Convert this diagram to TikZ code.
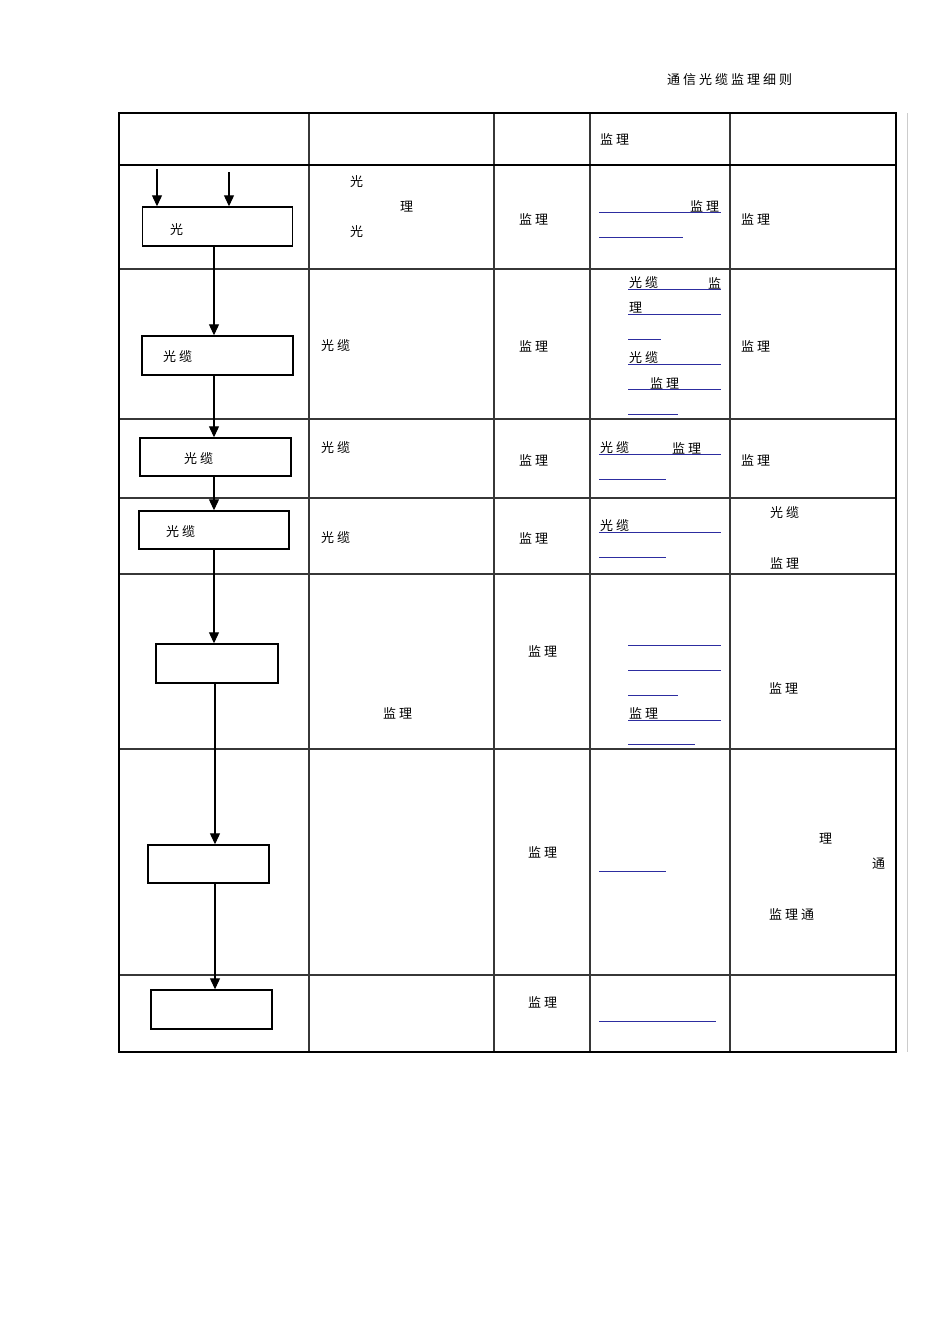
\documentclass[tikz,border=0pt]{standalone}
\usepackage{fontspec}
\newfontfamily\cjk{Noto Sans CJK SC}
\usetikzlibrary{arrows.meta}
\newcommand\gp{\hspace{3pt}}
\definecolor{linkblue}{RGB}{45,45,160}
\definecolor{gridgray}{RGB}{55,55,55}
\tikzset{
  txt/.style={anchor=west,inner sep=0pt,font=\cjk\fontsize{13}{15}\selectfont},
  txtc/.style={inner sep=0pt,font=\cjk\fontsize{13}{15}\selectfont},
  flowbox/.style={draw=black,line width=1.4pt,inner sep=0pt},
  arr/.style={line width=1.1pt,-{Triangle[width=10pt,length=11pt]}},
  uline/.style={draw=linkblue,line width=1pt},
  grid/.style={draw=gridgray,line width=1.1pt},
  outer/.style={draw=black,line width=2.8pt}
}
\begin{document}
\begin{tikzpicture}[x=1pt,y=-1pt]
\useasboundingbox[fill=white] (0,0) rectangle (950,1344);
% page header
\node[txt] (title) at (667,80) {通\gp 信\gp 光\gp 缆\gp 监\gp 理\gp 细\gp 则};
% faint line right of table
\draw[gray!40,line width=1pt] (907,113) -- (907,1052);
% inner grid
\foreach \yy in {269,419,498,574,749,975} {\draw[grid] (119,\yy) -- (896,\yy);}
\foreach \xx in {309,494,590,730} {\draw[grid] (\xx,113) -- (\xx,1052);}
\draw[outer] (119,165) -- (896,165);
\draw[outer] (119,113) rectangle (896,1052);
% header cell
\node[txt] (h4) at (600,139) {监\gp 理};
% flowchart boxes
\node[flowbox,minimum width=150pt,minimum height=39pt] (b1) at (217.5,226.5) {};
\node[flowbox,minimum width=151pt,minimum height=39pt] (b2) at (217.5,355.5) {};
\node[flowbox,minimum width=151pt,minimum height=38pt] (b3) at (215.5,457) {};
\node[flowbox,minimum width=150pt,minimum height=38pt] (b4) at (214,530) {};
\node[flowbox,minimum width=122pt,minimum height=39pt] (b5) at (217,663.5) {};
\node[flowbox,minimum width=121pt,minimum height=38pt] (b6) at (208.5,864) {};
\node[flowbox,minimum width=121pt,minimum height=39pt] (b7) at (211.5,1009.5) {};
\node[txt] (t1) at (170,230) {光};
\node[txt] (t2) at (163,357) {光\gp 缆};
\node[txt] (t3) at (184,459) {光\gp 缆};
\node[txt] (t4) at (166,532) {光\gp 缆};
% arrows
\coordinate (s1) at (157,169);
\coordinate (s2) at (229,172);
\coordinate (ax) at (214,0);
\coordinate (bx) at (215,0);
\draw[arr] (s1) -- (s1 |- b1.north);
\draw[arr] (s2) -- (s2 |- b1.north);
\draw[arr] (b1.south -| ax) -- (b2.north -| ax);
\draw[arr] (b2.south -| ax) -- (b3.north -| ax);
\draw[arr] (b3.south -| ax) -- (b4.north -| ax);
\draw[arr] (b4.south -| ax) -- (b5.north -| ax);
\draw[arr] (b5.south -| bx) -- (b6.north -| bx);
\draw[arr] (b6.south -| bx) -- (b7.north -| bx);
% row 1
\node[txt] (r1a) at (350,182) {光};
\node[txt] (r1b) at (400,207) {理};
\node[txt] (r1c) at (350,232) {光};
\node[txt] (r1d) at (519,219) {监\gp 理};
\node[txt] (r1e) at (690,206) {监\gp 理};
\draw[uline] (599,212) -- (721,212);
\draw[uline] (599,237) -- (683,237);
\node[txt] (r1f) at (741,219) {监\gp 理};
% row 2
\node[txt] (r2a) at (321,346) {光\gp 缆};
\node[txt] (r2b) at (519,346) {监\gp 理};
\node[txt] (r2c) at (629,283) {光\gp 缆};
\node[txt] (r2d) at (708,283) {监};
\draw[uline] (628,289) -- (721,289);
\node[txt] (r2e) at (629,308) {理};
\draw[uline] (628,314) -- (721,314);
\draw[uline] (628,339) -- (661,339);
\node[txt] (r2f) at (629,358) {光\gp 缆};
\draw[uline] (628,364) -- (721,364);
\node[txt] (r2g) at (650,383) {监\gp 理};
\draw[uline] (628,389) -- (721,389);
\draw[uline] (628,414) -- (678,414);
\node[txt] (r2h) at (741,346) {监\gp 理};
% row 3
\node[txt] (r3a) at (321,448) {光\gp 缆};
\node[txt] (r3b) at (519,460) {监\gp 理};
\node[txt] (r3c) at (600,448) {光\gp 缆};
\node[txt] (r3d) at (672,448) {监\gp 理};
\draw[uline] (599,454) -- (721,454);
\draw[uline] (599,479) -- (666,479);
\node[txt] (r3e) at (741,460) {监\gp 理};
% row 4
\node[txt] (r4a) at (321,538) {光\gp 缆};
\node[txt] (r4b) at (519,538) {监\gp 理};
\node[txt] (r4c) at (600,526) {光\gp 缆};
\draw[uline] (599,532) -- (721,532);
\draw[uline] (599,557) -- (666,557);
\node[txt] (r4d) at (770,513) {光\gp 缆};
\node[txt] (r4e) at (770,563) {监\gp 理};
% row 5
\node[txt] (r5a) at (383,713) {监\gp 理};
\node[txt] (r5b) at (528,651) {监\gp 理};
\draw[uline] (628,645) -- (721,645);
\draw[uline] (628,670) -- (721,670);
\draw[uline] (628,695) -- (678,695);
\node[txt] (r5c) at (629,713) {监\gp 理};
\draw[uline] (628,720) -- (721,720);
\draw[uline] (628,744) -- (695,744);
\node[txt] (r5d) at (769,688) {监\gp 理};
% row 6
\node[txt] (r6a) at (528,852) {监\gp 理};
\draw[uline] (599,871) -- (666,871);
\node[txt] (r6b) at (819,839) {理};
\node[txt] (r6c) at (872,864) {通};
\node[txt] (r6d) at (769,914) {监\gp 理\gp 通};
% row 7
\node[txt] (r7a) at (528,1002) {监\gp 理};
\draw[uline] (599,1021) -- (716,1021);
\end{tikzpicture}
\end{document}
